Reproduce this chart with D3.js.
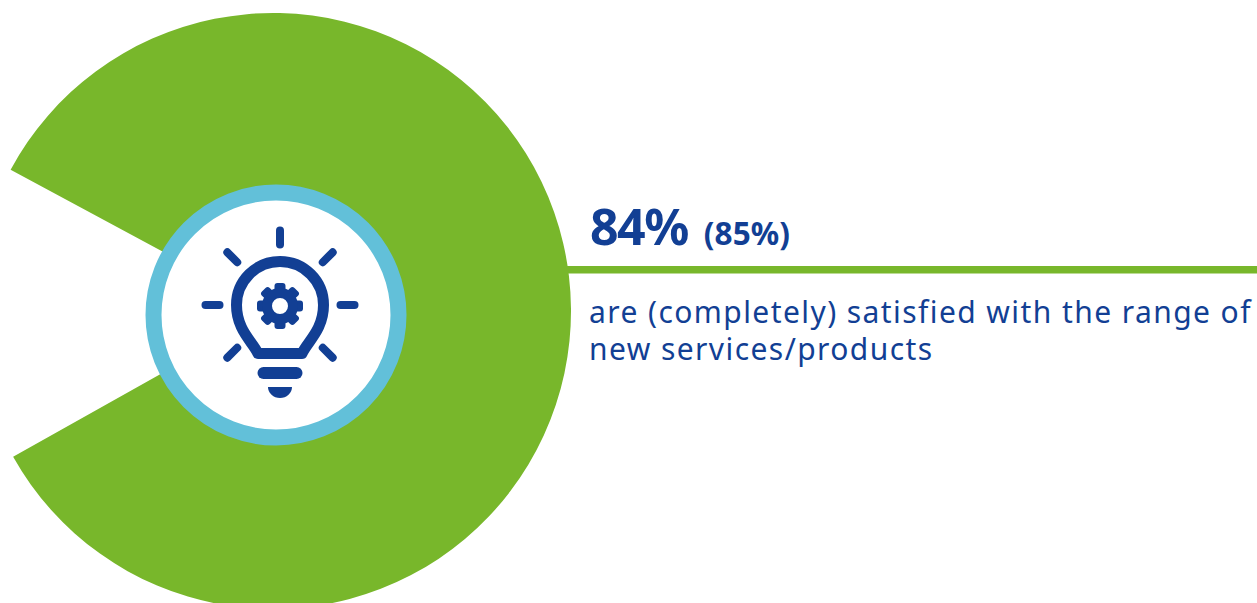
<!DOCTYPE html>
<html>
<head>
<meta charset="utf-8">
<script src="https://cdn.jsdelivr.net/npm/d3@7"></script>
<style>
html, body { margin: 0; padding: 0; background: #fff; overflow: hidden; }
svg { display: block; }
text { font-family: "Noto Sans", sans-serif; fill: #123f94; }
</style>
</head>
<body>
<svg id="chart" width="1257" height="603"></svg>
<script>
// Survey result shown as a ring with a short open wedge
const satisfied = [84, 16];
const headline = "84%";
const previous = "(85%)";
const captionLines = ["are (completely) satisfied with the range of", "new services/products"];

const GREEN = "#78b72b", BLUE = "#123f94", SKY = "#62c0d9";
const cx = 273, cy = 311, outerR = 298;
const hubX = 276, hubY = 315;

const svg = d3.select("#chart");

// Rotate the pie so that the open wedge faces left
const gapDeg = satisfied[1] / d3.sum(satisfied) * 360;
const start = (-90 + gapDeg / 2 - 0.5) * Math.PI / 180;
const pie = d3.pie().sort(null).startAngle(start).endAngle(start + 2 * Math.PI);
const arc = d3.arc().innerRadius(0).outerRadius(outerR);

svg.append("g").attr("transform", `translate(${cx},${cy})`)
  .selectAll("path").data(pie(satisfied)).join("path")
  .attr("d", arc)
  .attr("fill", (d, i) => i === 0 ? GREEN : "none");

// Hub circle holding the icon
svg.append("circle").attr("cx", hubX).attr("cy", hubY).attr("r", 122.5)
  .attr("fill", "#fff").attr("stroke", SKY).attr("stroke-width", 16);

// Light bulb icon with a gear inside
const icon = svg.append("g").attr("transform", "translate(280,305)")
  .attr("fill", "none").attr("stroke", BLUE).attr("stroke-linecap", "round");

icon.append("path").attr("stroke-width", 11).attr("stroke-linejoin", "round")
  .attr("d", "M-22,48.5 L22,48.5 C27,37 43.5,25 43.5,0 A43.5,43.5 0 0 0 -43.5,0 C-43.5,25 -27,37 -22,48.5 Z");

// Rays on every side of the bulb except straight down
[0, 1, 2, 3, 5, 6, 7].forEach(i => {
  const a = i * Math.PI / 4;
  const r0 = 60.5, r1 = 74.5;
  icon.append("line").attr("stroke-width", 8)
    .attr("x1", r0 * Math.sin(a)).attr("y1", -r0 * Math.cos(a))
    .attr("x2", r1 * Math.sin(a)).attr("y2", -r1 * Math.cos(a));
});

icon.append("line").attr("stroke-width", 12).attr("x1", -16.5).attr("x2", 16.5).attr("y1", 68).attr("y2", 68);
icon.append("path").attr("stroke", "none").attr("fill", BLUE)
  .attr("d", "M-12,82 L12,82 A12,11 0 0 1 -12,82 Z");

// Gear: eight teeth around a ring
const gear = icon.append("g").attr("transform", "translate(0,1)");
d3.range(8).forEach(i => {
  gear.append("rect").attr("x", -5.5).attr("y", -23).attr("width", 11).attr("height", 9).attr("rx", 3)
    .attr("fill", BLUE).attr("stroke", "none")
    .attr("transform", `rotate(${i * 45})`);
});
gear.append("circle").attr("r", 13).attr("stroke-width", 10);

// Rule running from the ring to the edge
svg.append("line").attr("x1", 566).attr("x2", 1257).attr("y1", 269.7).attr("y2", 269.7)
  .attr("stroke", GREEN).attr("stroke-width", 7.5);

// Headline with the previous value beside it
const head = svg.append("text").attr("x", 590).attr("y", 245).attr("font-weight", 700);
head.append("tspan").attr("font-size", 50).attr("letter-spacing", -1.5).text(headline);
head.append("tspan").attr("font-size", 31.5).attr("dx", 16).attr("letter-spacing", 0.1).text(previous);

svg.append("g").selectAll("text").data(captionLines).join("text")
  .attr("x", 589).attr("y", (d, i) => 323 + i * 36.5)
  .attr("font-size", 30).attr("letter-spacing", 1.42)
  .text(d => d);
</script>
</body>
</html>
